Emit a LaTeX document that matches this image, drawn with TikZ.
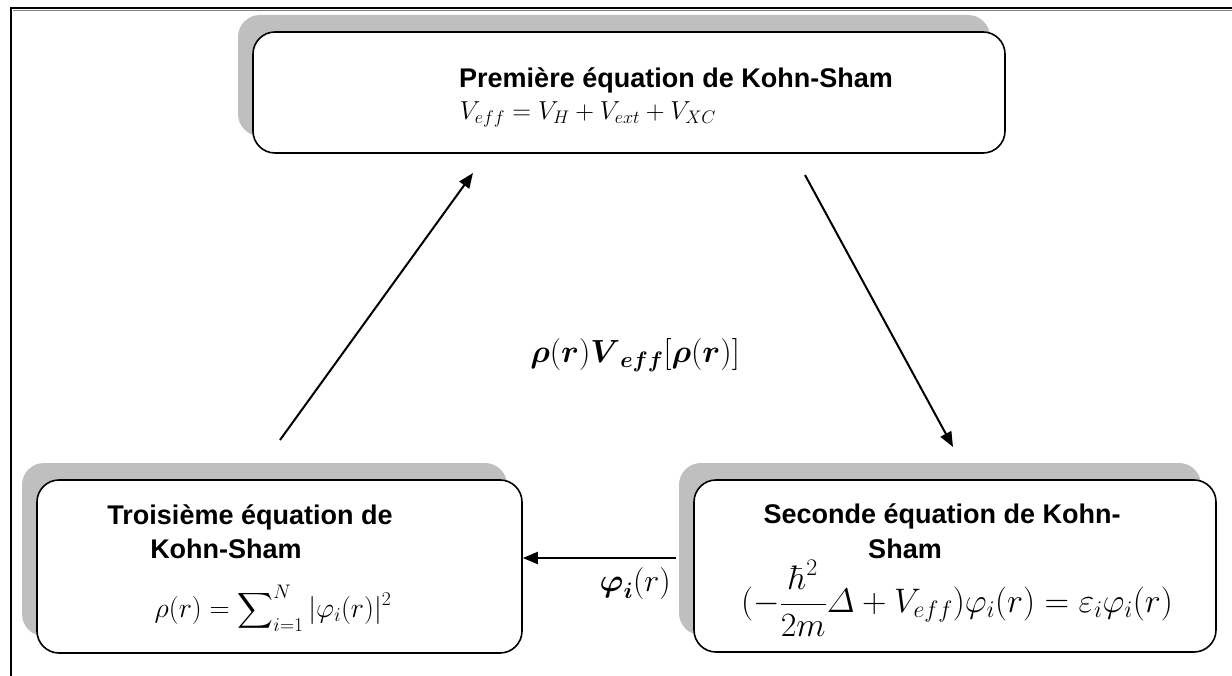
\RequirePackage{fix-cm}
\documentclass[tikz,border=0pt]{standalone}
\usepackage{fontspec}
\setsansfont{Liberation Sans}
\usepackage{amsmath}
\usepackage{tikz}
\usetikzlibrary{positioning, arrows.meta, shadows}
\definecolor{shadowgray}{HTML}{BFBFBF}

\tikzset{
  eqbox/.style={draw, line width=1.6pt, rounded corners=22pt, fill=white,
    drop shadow={shadow xshift=-15pt, shadow yshift=17pt, fill=shadowgray, opacity=1}},
  boxtitle/.style={font=\sffamily\bfseries\fontsize{27}{32}\selectfont, inner sep=0pt},
  boxeq/.style={font=\fontsize{26}{30}\selectfont, inner sep=0pt},
  flowlabel/.style={font=\fontsize{32}{38}\selectfont, inner sep=0pt},
  flow/.style={line width=2pt, -{Triangle[length=15pt,width=12pt]}},
}

\begin{document}
\begin{tikzpicture}[x=1pt, y=-1pt]
    \useasboundingbox (0,0) rectangle (1232,676);
    % page frame
    \draw[line width=2pt] (1232,8) -- (11,8) -- (11,676);
    \draw[gray, line width=0.8pt] (13,10.5) -- (1232,10.5);

    % the three boxes
    \node[eqbox, minimum width=752pt, minimum height=121pt] (ks1) at (629,92.5) {};
    \node[eqbox, minimum width=485pt, minimum height=173pt] (ks3) at (279.5,566.5) {};
    \node[eqbox, minimum width=522pt, minimum height=172pt] (ks2) at (955,566) {};

    \node[boxtitle] (ks1t) at (676,80) {Première équation de Kohn-Sham};
    \node[boxeq] (ks1e) at (588,114) {$V_{eff} = V_H + V_{ext} + V_{XC}$};

    \node[boxtitle] (ks2t) at (942,516) {Seconde équation de Kohn-};
    \node[boxtitle] (ks2u) at (905,549) {Sham};
    \node[boxeq, font=\fontsize{34}{38}\selectfont] (ks2e) at (957,598)
      {$(-\dfrac{\hbar^2}{2m}\varDelta + V_{eff})\varphi_i(r) = \varepsilon_i\varphi_i(r)$};

    \node[boxtitle] (ks3t) at (250,517) {Troisième équation de};
    \node[boxtitle] (ks3u) at (226,549) {Kohn-Sham};
    \node[boxeq, font=\fontsize{28}{32}\selectfont] (ks3e) at (273,608)
      {$\rho(r) = \displaystyle\sum\nolimits_{i=1}^{N} |\varphi_i(r)|^2$};

    % cycle
    \coordinate (up1) at (280,440);
    \coordinate (up2) at (473,173);
    \coordinate (dn1) at (805,175);
    \coordinate (dn2) at (953,447);
    \coordinate (phi0) at (676,558);
    \draw[flow] (up1) -- (up2);
    \draw[flow] (dn1) -- (dn2);
    \draw[flow] (phi0) -- (ks3.east |- phi0);

    \node[flowlabel] (rholab) at (635,355)
      {$\boldsymbol{\rho}(\boldsymbol{r})\boldsymbol{V}_{\boldsymbol{eff}}[\boldsymbol{\rho}(\boldsymbol{r})]$};
    \node[flowlabel, anchor=east] (philab) at (671,583) {$\boldsymbol{\varphi}_{\boldsymbol{i}}(r)$};
\end{tikzpicture}
\end{document}
